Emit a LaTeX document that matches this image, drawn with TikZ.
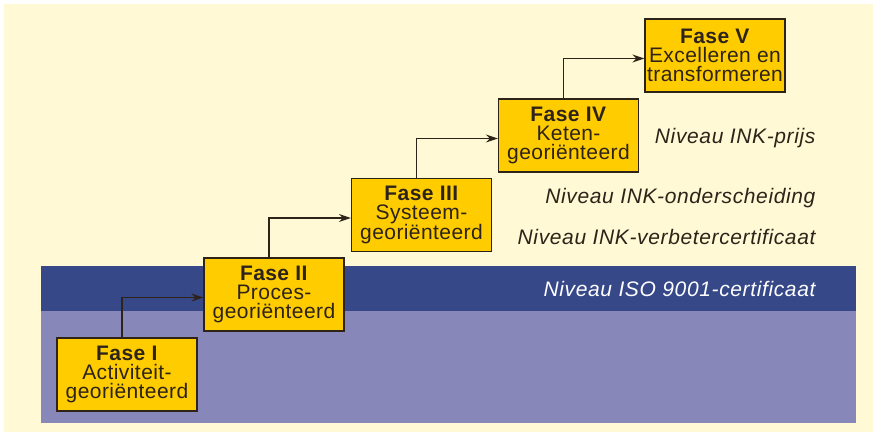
\documentclass[tikz,border=0pt]{standalone}
\usepackage{fontspec}
\setmainfont{Liberation Sans}[LetterSpace=2]
\newfontfamily\nivfont{Liberation Sans}[LetterSpace=3]
\usetikzlibrary{arrows.meta,positioning}
\definecolor{creme}{RGB}{255,249,214}
\definecolor{donkerblauw}{RGB}{55,72,137}
\definecolor{lichtpaars}{RGB}{135,135,186}
\definecolor{geel}{RGB}{255,204,0}
\definecolor{bruin}{RGB}{45,35,25}

\begin{document}
\begin{tikzpicture}[x=1pt,y=-1pt,
          fase/.style={draw=bruin,fill=geel,line width=1.2pt,
                       minimum width=140pt,minimum height=73pt,
                       inner sep=0pt,align=center,text=bruin,
                       font=\fontsize{21}{19}\selectfont},
          stap/.style={-{Stealth[length=12pt,width=8pt]},bruin,line width=1.3pt},
          niv/.style={anchor=east,text=bruin,font=\nivfont\fontsize{21}{19}\selectfont\itshape}
        ]
        \useasboundingbox (0,0) rectangle (883,434);
        \fill[creme] (4,4) rectangle (873,432);
        \fill[lichtpaars] (41,266) rectangle (856,423);
        \fill[donkerblauw] (41,266) rectangle (856,311);

        \node[fase] (f1) at (127,374.5) {\textbf{Fase I}\\Activiteit-\\georiënteerd};
        \node[fase] (f2) at (274,294.5) {\textbf{Fase II}\\Proces-\\georiënteerd};
        \node[fase] (f3) at (421.5,215) {\textbf{Fase III}\\Systeem-\\georiënteerd};
        \node[fase] (f4) at (568.5,135.5) {\textbf{Fase IV}\\Keten-\\georiënteerd};
        \node[fase] (f5) at (715,55.5) {\textbf{Fase V}\\Excelleren en\\transformeren};

        \draw[stap] ([xshift=-5pt]f1.north) |- ([yshift=-3pt]f2.west);
        \draw[stap] ([xshift=-5pt]f2.north) |- ([yshift=-3pt]f3.west);
        \draw[stap] ([xshift=-5pt]f3.north) |- ([yshift=-3pt]f4.west);
        \draw[stap] ([xshift=-5pt]f4.north) |- ([yshift=-3pt]f5.west);

        \node[niv] (prijs) at (819,138) {Niveau INK-prijs};
        \node[niv] (onder) at (819,198) {Niveau INK-onderscheiding};
        \node[niv] (verbeter) at (819,237) {Niveau INK-verbetercertificaat};
        \node[niv,text=white] (iso) at (819,289) {Niveau ISO 9001-certificaat};
      \end{tikzpicture}
\end{document}
